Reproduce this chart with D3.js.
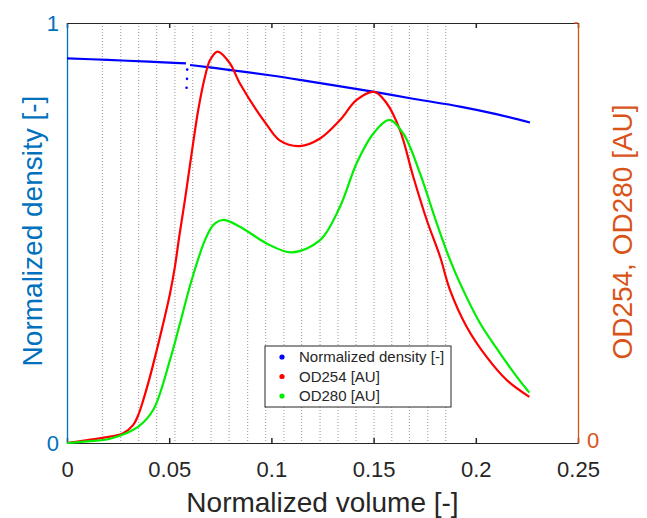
<!DOCTYPE html>
<html>
<head>
<meta charset="utf-8">
<script src="https://cdn.jsdelivr.net/npm/d3@7"></script>
<style>
  body { margin: 0; background: #fff; }
  svg { font-family: "Liberation Sans", Arial, sans-serif; }
</style>
</head>
<body>
<div id="chart"></div>
<script>
// normalized volume positions of each series
const densityVol = [0, 0.02, 0.04, 0.0582, null, 0.0602, 0.08, 0.1, 0.1148, 0.13, 0.1503, 0.17, 0.1923, 0.21, 0.2265];
const densityVal = [0.916, 0.912, 0.908, 0.904, null, 0.900, 0.888, 0.875, 0.864, 0.852, 0.836, 0.819, 0.801, 0.783, 0.763];
// the few stray density points near the fraction change
const strayVol = [0.0588, 0.0587, 0.0585];
const strayVal = [0.889, 0.867, 0.846];

const od254Vol = [0, 0.01, 0.021, 0.0275, 0.0324, 0.0349, 0.0373, 0.0406, 0.0439, 0.0471, 0.0504, 0.0528, 0.0549, 0.0577, 0.061, 0.0642, 0.0675, 0.07, 0.0737, 0.0797, 0.0846, 0.0977, 0.1042, 0.114, 0.1238, 0.1336, 0.1417, 0.1503, 0.1564, 0.1629, 0.1694, 0.176, 0.1825, 0.1874, 0.1955, 0.2053, 0.2151, 0.2262];
const od254Val = [0, 0.007, 0.015, 0.023, 0.043, 0.067, 0.102, 0.158, 0.221, 0.285, 0.356, 0.42, 0.491, 0.579, 0.69, 0.793, 0.872, 0.912, 0.932, 0.904, 0.856, 0.758, 0.72, 0.707, 0.725, 0.769, 0.817, 0.836, 0.809, 0.745, 0.634, 0.531, 0.444, 0.364, 0.277, 0.205, 0.15, 0.11];

const od280Vol = [0, 0.01, 0.021, 0.0349, 0.0422, 0.0504, 0.0553, 0.061, 0.0675, 0.0716, 0.0762, 0.0846, 0.0977, 0.1099, 0.1238, 0.1336, 0.1417, 0.1499, 0.1577, 0.1645, 0.1727, 0.1809, 0.1874, 0.1923, 0.2021, 0.2118, 0.22, 0.2262];
const od280Val = [0, 0.004, 0.01, 0.039, 0.079, 0.198, 0.285, 0.388, 0.483, 0.519, 0.531, 0.515, 0.475, 0.454, 0.483, 0.563, 0.666, 0.737, 0.769, 0.737, 0.642, 0.523, 0.436, 0.38, 0.285, 0.214, 0.158, 0.12];

// fraction boundaries (dotted vertical lines)
const fractionEdges = [0.0173, 0.0263, 0.0351, 0.0439, 0.0528, 0.0615, 0.0705, 0.0793, 0.0884, 0.0972, 0.1061, 0.1148, 0.1238, 0.1326, 0.1414, 0.1502, 0.1589, 0.1675, 0.1765, 0.1853];

const xTicks = [0, 0.05, 0.1, 0.15, 0.2, 0.25];
const xTickLabels = ["0", "0.05", "0.1", "0.15", "0.2", "0.25"];
const legendLabels = ["Normalized density [-]", "OD254 [AU]", "OD280 [AU]"];

const blueAxis = "#0072BD", orangeAxis = "#D95319", dark = "#262626";
const seriesColors = ["#0000ff", "#ff0000", "#00ee00"];

const margin = {top: 23, right: 69, bottom: 75, left: 67},
    width = 647 - margin.left - margin.right,
    height = 518 - margin.top - margin.bottom;

const svg = d3.select("#chart")
  .append("svg")
    .attr("width", 647)
    .attr("height", 518)
  .append("g")
    .attr("transform", `translate(${margin.left},${margin.top})`);

const x = d3.scaleLinear().domain([0, 0.25]).range([0, width]);
const yDen = d3.scaleLinear().domain([0, 1]).range([height, 0]);
const yOD = d3.scaleLinear().domain([0, 1]).range([height, 0]);

// dotted fraction lines
svg.append("g")
  .selectAll("line")
  .data(fractionEdges)
  .join("line")
    .attr("x1", d => x(d)).attr("x2", d => x(d))
    .attr("y1", 0).attr("y2", height)
    .attr("stroke", "#8a8a8a")
    .attr("stroke-width", 0.9)
    .attr("stroke-dasharray", "1,2");

// bottom axis, ticks point inward
const xAxis = svg.append("g")
  .attr("transform", `translate(0,${height})`)
  .call(d3.axisBottom(x).tickValues(xTicks).tickSize(-5).tickPadding(18)
    .tickFormat((d, i) => xTickLabels[i]));
xAxis.select(".domain").attr("stroke", dark);
xAxis.selectAll(".tick line").attr("stroke", dark).attr("stroke-width", 1.5);
xAxis.selectAll("text").attr("fill", dark).style("font-size", "22px")
  .style("font-family", "Liberation Sans, Arial, sans-serif");

// top border
const topAxis = svg.append("g")
  .call(d3.axisTop(x).tickValues(xTicks).tickSize(-5).tickFormat(""));
topAxis.select(".domain").attr("stroke", dark);
topAxis.selectAll(".tick line").attr("stroke", dark).attr("stroke-width", 1.5);

// left axis (density)
const leftAxis = svg.append("g")
  .call(d3.axisLeft(yDen).tickValues([0, 1]).tickSize(0).tickPadding(8).tickFormat(d3.format("d")));
leftAxis.select(".domain").attr("stroke", blueAxis).attr("stroke-width", 1.3);
leftAxis.selectAll("text").attr("fill", blueAxis).style("font-size", "22px")
  .style("font-family", "Liberation Sans, Arial, sans-serif");

// right axis (OD)
const rightAxis = svg.append("g")
  .attr("transform", `translate(${width},0)`)
  .call(d3.axisRight(yOD).tickValues([0]).tickSize(0).tickPadding(9).tickFormat(d3.format("d")));
rightAxis.select(".domain").attr("stroke", orangeAxis).attr("stroke-width", 1.3);
rightAxis.selectAll("text").attr("fill", orangeAxis).style("font-size", "22px")
  .attr("dy", "0.2em")
  .style("font-family", "Liberation Sans, Arial, sans-serif");
rightAxis.append("line").attr("x1", -4).attr("x2", 0).attr("y1", 0).attr("y2", 0)
  .attr("stroke", orangeAxis).attr("stroke-width", 1.3);

// series
function drawSeries(xs, ys, yScale, color) {
  const pts = xs.map((v, i) => [v, ys[i]]);
  svg.append("path")
    .datum(pts)
    .attr("fill", "none")
    .attr("stroke", color)
    .attr("stroke-width", 2.2)
    .attr("d", d3.line()
      .defined(d => d[0] != null)
      .curve(d3.curveCatmullRom.alpha(0.5))
      .x(d => x(d[0]))
      .y(d => yScale(d[1])));
}
drawSeries(densityVol, densityVal, yDen, seriesColors[0]);
svg.append("g")
  .selectAll("circle")
  .data(strayVol.map((v, i) => [v, strayVal[i]]))
  .join("circle")
    .attr("cx", d => x(d[0]))
    .attr("cy", d => yDen(d[1]))
    .attr("r", 1.3)
    .attr("fill", seriesColors[0]);
drawSeries(od254Vol, od254Val, yOD, seriesColors[1]);
drawSeries(od280Vol, od280Val, yOD, seriesColors[2]);

// axis labels
svg.append("text")
  .attr("x", width / 2)
  .attr("y", height + 69)
  .attr("text-anchor", "middle")
  .attr("fill", dark)
  .style("font-size", "28px")
  .text("Normalized volume [-]");

svg.append("text")
  .attr("transform", `translate(${42 - margin.left},${height / 2 - 2}) rotate(-90)`)
  .attr("text-anchor", "middle")
  .attr("fill", blueAxis)
  .style("font-size", "28px")
  .text("Normalized density [-]");

svg.append("text")
  .attr("transform", `translate(${632 - margin.left},${height / 2 - 1}) rotate(-90)`)
  .attr("text-anchor", "middle")
  .attr("fill", orangeAxis)
  .style("font-size", "28px")
  .text("OD254, OD280 [AU]");

// legend
const legend = svg.append("g")
  .attr("transform", `translate(${265 - margin.left},${346 - margin.top})`);
legend.append("rect")
  .attr("width", 186).attr("height", 61)
  .attr("fill", "#fff")
  .attr("stroke", dark)
  .attr("stroke-width", 1);
legend.selectAll("circle")
  .data(legendLabels)
  .join("circle")
    .attr("cx", 17)
    .attr("cy", (d, i) => 11 + i * 19.5)
    .attr("r", 2.6)
    .attr("fill", (d, i) => seriesColors[i]);
legend.selectAll("text")
  .data(legendLabels)
  .join("text")
    .attr("x", 34)
    .attr("y", (d, i) => 16 + i * 19.5)
    .attr("fill", dark)
    .style("font-size", "15px")
    .text(d => d);
</script>
</body>
</html>
